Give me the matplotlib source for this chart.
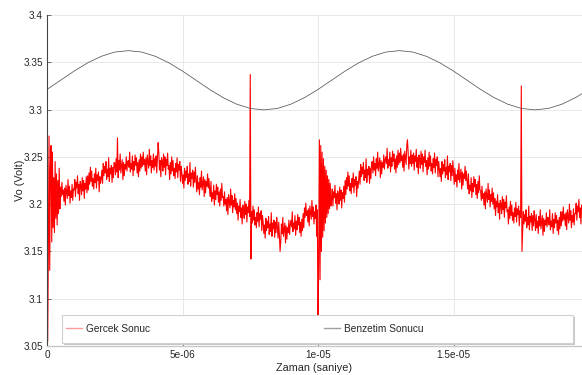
import numpy as np
import matplotlib
matplotlib.use("Agg")
import matplotlib.pyplot as plt
from matplotlib.ticker import FixedLocator, FixedFormatter
from matplotlib.patches import Rectangle
from matplotlib.lines import Line2D

plt.rcParams['font.family'] = ['Liberation Sans', 'DejaVu Sans']

# Sampling steps (seconds)
red_dt = 0.025e-6
black_dt = 0.5e-6

# Measured output ("Gercek Sonuc") in millivolts, rows of 20 samples = 0.5 us each
gercek_mv = [
    3200,3055,3150,3272,3130,3240,3262,3160,3255,3175,3228,3170,3245,3185,3232,3178,3225,3190,3238,3195,
    3218,3208,3223,3210,3215,3203,3217,3199,3220,3213,3206,3226,3209,3219,3201,3214,3207,3221,3204,3216,
    3215,3226,3208,3223,3217,3230,3211,3221,3204,3224,3220,3210,3228,3214,3225,3206,3222,3216,3229,3212,
    3230,3215,3233,3221,3239,3224,3235,3219,3227,3216,3232,3223,3238,3217,3231,3225,3234,3213,3229,3222,
    3227,3236,3222,3243,3230,3240,3233,3245,3226,3237,3229,3249,3224,3238,3232,3241,3223,3239,3228,3244,
    3243,3231,3248,3234,3270,3228,3246,3236,3253,3233,3240,3247,3226,3244,3230,3242,3237,3250,3235,3245,
    3246,3239,3255,3234,3243,3237,3251,3230,3245,3236,3252,3241,3249,3233,3244,3229,3247,3235,3253,3238,
    3250,3240,3255,3242,3247,3235,3249,3231,3252,3245,3238,3258,3241,3251,3233,3246,3239,3253,3236,3248,
    3240,3251,3233,3248,3265,3255,3236,3246,3229,3249,3245,3235,3253,3239,3250,3231,3247,3241,3254,3237,
    3241,3226,3244,3232,3250,3235,3246,3230,3238,3227,3243,3234,3249,3228,3242,3236,3245,3224,3240,3233,
    3222,3231,3217,3238,3225,3235,3228,3240,3221,3232,3224,3244,3219,3233,3227,3236,3218,3234,3223,3239,
    3225,3213,3230,3216,3223,3210,3228,3218,3235,3215,3222,3229,3208,3226,3212,3224,3219,3232,3217,3227,
    3215,3208,3224,3203,3212,3206,3220,3199,3214,3205,3221,3210,3218,3202,3213,3198,3216,3204,3222,3207,
    3208,3198,3213,3200,3205,3193,3207,3189,3210,3203,3196,3216,3199,3209,3191,3204,3197,3211,3194,3206,
    3190,3201,3183,3198,3192,3205,3186,3196,3179,3199,3195,3185,3203,3189,3200,3181,3197,3191,3204,3187,
    3337,3142,3192,3180,3198,3183,3194,3178,3186,3175,3191,3182,3197,3176,3190,3184,3193,3172,3188,3181,
    3169,3178,3164,3185,3172,3182,3175,3187,3168,3179,3171,3191,3166,3180,3174,3183,3165,3181,3170,3186,
    3176,3164,3181,3167,3150,3161,3179,3169,3186,3166,3173,3180,3159,3177,3163,3175,3170,3183,3168,3178,
    3183,3176,3192,3171,3180,3174,3188,3167,3182,3173,3189,3178,3186,3170,3181,3166,3184,3172,3190,3175,
    3196,3186,3201,3188,3193,3181,3195,3177,3198,3191,3184,3204,3187,3197,3179,3192,3185,3199,3166,3194,
    3060,3140,3268,3120,3262,3150,3255,3165,3248,3172,3240,3180,3236,3186,3230,3190,3226,3195,3222,3198,
    3205,3216,3198,3213,3207,3220,3201,3211,3194,3214,3210,3200,3218,3204,3215,3196,3212,3206,3219,3202,
    3225,3210,3228,3216,3234,3219,3230,3214,3222,3211,3227,3218,3233,3212,3226,3220,3229,3208,3224,3217,
    3226,3235,3221,3242,3229,3239,3232,3244,3225,3236,3228,3248,3223,3237,3231,3240,3222,3238,3227,3243,
    3245,3233,3250,3236,3243,3230,3248,3238,3255,3235,3242,3249,3228,3246,3232,3244,3239,3252,3237,3247,
    3250,3243,3259,3238,3247,3241,3255,3234,3249,3240,3256,3245,3253,3237,3248,3233,3251,3239,3257,3242,
    3254,3244,3259,3246,3251,3239,3253,3235,3256,3249,3242,3262,3268,3255,3237,3250,3243,3257,3240,3252,
    3243,3254,3236,3251,3245,3258,3239,3249,3232,3252,3248,3238,3256,3242,3253,3234,3250,3244,3257,3240,
    3246,3231,3249,3237,3255,3240,3251,3235,3243,3232,3248,3239,3254,3233,3247,3241,3250,3229,3245,3238,
    3229,3238,3224,3245,3232,3242,3235,3247,3228,3239,3231,3251,3226,3240,3234,3243,3225,3241,3230,3246,
    3233,3221,3238,3224,3231,3218,3236,3226,3243,3223,3230,3237,3216,3234,3220,3232,3227,3240,3225,3235,
    3223,3216,3232,3211,3220,3214,3228,3207,3222,3213,3229,3218,3226,3210,3221,3206,3224,3212,3230,3215,
    3214,3204,3219,3206,3211,3199,3213,3195,3216,3209,3202,3222,3205,3215,3197,3210,3203,3217,3200,3212,
    3195,3206,3188,3203,3197,3210,3191,3201,3184,3204,3200,3190,3208,3194,3205,3186,3202,3196,3209,3192,
    3194,3179,3197,3185,3203,3188,3199,3183,3191,3180,3196,3187,3202,3181,3195,3189,3198,3177,3193,3186,
    3325,3150,3171,3192,3179,3189,3182,3194,3175,3186,3178,3198,3173,3187,3181,3190,3172,3188,3177,3193,
    3184,3172,3189,3175,3182,3169,3187,3177,3194,3174,3181,3188,3167,3185,3171,3183,3178,3191,3176,3186,
    3185,3178,3194,3173,3182,3176,3190,3169,3184,3175,3191,3180,3188,3172,3183,3168,3186,3174,3192,3177,
    3192,3182,3197,3184,3189,3177,3191,3173,3194,3187,3180,3200,3183,3193,3175,3188,3181,3195,3178,3190,
    3190,3201,3183,3198,3192,3205,3186,3196,3179,3199,3195,
]

# Simulated output ("Benzetim Sonucu") in volts, every 0.5 us
benzetim = [
    3.3213, 3.3310, 3.3407, 3.3494, 3.3563, 3.3608, 3.3623, 3.3608, 3.3563, 3.3494,
    3.3407, 3.3310, 3.3213, 3.3126, 3.3057, 3.3012, 3.2997, 3.3012, 3.3057, 3.3126,
    3.3213, 3.3310, 3.3407, 3.3494, 3.3563, 3.3608, 3.3623, 3.3608, 3.3563, 3.3494,
    3.3407, 3.3310, 3.3213, 3.3126, 3.3057, 3.3012, 3.2997, 3.3012, 3.3057, 3.3126,
    3.3213,
]

labels = ["Gercek Sonuc", "Benzetim Sonucu"]
x_ticks = [0, 5e-6, 1e-5, 1.5e-5]
x_tick_labels = ["0", "5e-06", "1e-05", "1.5e-05"]
y_ticks = [3.05, 3.1, 3.15, 3.2, 3.25, 3.3, 3.35, 3.4]
y_tick_labels = ["3.05", "3.1", "3.15", "3.2", "3.25", "3.3", "3.35", "3.4"]

gercek = np.array(gercek_mv) / 1000.0
t_red = np.arange(len(gercek)) * red_dt
t_black = np.arange(len(benzetim)) * black_dt

fig = plt.figure(figsize=(5.82, 3.75), dpi=100)
ax = fig.add_axes([47/582, 29/375, 535/582, 331/375])

ax.plot(t_red, gercek, color='#ff0000', lw=0.8, zorder=2)
ax.plot(t_black, benzetim, color='#555555', lw=0.55, zorder=2)

ax.set_xlim(0, 1.974e-5)
ax.set_ylim(3.05, 3.4)
ax.xaxis.set_major_locator(FixedLocator(x_ticks))
ax.xaxis.set_major_formatter(FixedFormatter(x_tick_labels))
ax.yaxis.set_major_locator(FixedLocator(y_ticks))
ax.yaxis.set_major_formatter(FixedFormatter(y_tick_labels))

ax.grid(True, color='#e8e8e8', lw=0.7)
ax.set_axisbelow(True)
for s in ['top', 'right']:
    ax.spines[s].set_visible(False)
ax.spines['left'].set_color('#444444')
ax.spines['left'].set_linewidth(0.8)
ax.spines['bottom'].set_color('#c8c8c8')
ax.spines['bottom'].set_linewidth(1.0)
ax.tick_params(direction='in', length=3, width=0.6, colors='#555555',
               labelsize=7.2, labelcolor='#262626', pad=3)

ax.set_xlabel("Zaman (saniye)", fontsize=7.8, color='#262626', labelpad=2)
ax.set_ylabel("Vo (Volt)", fontsize=7.8, color='#262626', labelpad=-1)

# Legend box (frame drawn as patches, entries as frameless legend)
def px_to_ax(x0, y0, x1, y1):
    return ((x0 - 47) / 535, (346 - y1) / 331, (x1 - x0) / 535, (y1 - y0) / 331)

sx, sy, sw, sh = px_to_ax(63.5, 316.5, 574.5, 344.5)
ax.add_patch(Rectangle((sx, sy), sw, sh, transform=ax.transAxes,
                       facecolor='#c8c8c8', edgecolor='none', zorder=4))
bx, by, bw, bh = px_to_ax(62, 315, 573, 343)
ax.add_patch(Rectangle((bx, by), bw, bh, transform=ax.transAxes,
                       facecolor='white', edgecolor='#d0d0d0', lw=0.8, zorder=4.5))

handles = [Line2D([], [], color='#ff9a9a', lw=1.0),
           Line2D([], [], color='#a0a0a0', lw=1.0)]
leg = ax.legend(handles, labels, loc='center left',
                bbox_to_anchor=((62 - 47) / 535, (346 - 329) / 331),
                ncol=2, fontsize=7.3, frameon=False, borderaxespad=0,
                handlelength=1.6, handletextpad=0.4, borderpad=0.4,
                columnspacing=17.1)
leg.set_zorder(5)
for txt in leg.get_texts():
    txt.set_color('#262626')

fig.savefig("out.png", dpi=100)
